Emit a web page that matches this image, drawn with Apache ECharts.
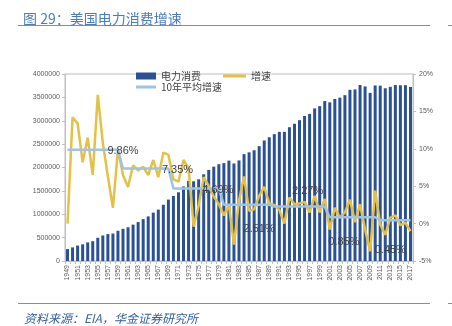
<!DOCTYPE html>
<html>
<head>
<meta charset="utf-8">
<script src="https://cdn.jsdelivr.net/npm/echarts@6/dist/echarts.min.js"></script>
<style>
html,body{margin:0;padding:0;background:#fff;}
#c{width:452px;height:326px;}
</style>
</head>
<body>
<div id="c"></div>
<script>
var years = [];
for (var y = 1949; y <= 2017; y++) years.push(String(y));

var consumption = [255000, 291000, 330000, 357000, 398000, 424000, 497000, 546000, 576000, 588000,
  646000, 688000, 722000, 778000, 833000, 896000, 954000, 1035000, 1099000, 1203000,
  1314000, 1392000, 1470000, 1595000, 1713000, 1706000, 1747000, 1855000, 1948000, 2018000,
  2071000, 2094000, 2147000, 2086000, 2151000, 2286000, 2324000, 2369000, 2457000, 2578000,
  2647000, 2713000, 2762000, 2763000, 2861000, 2935000, 3013000, 3101000, 3146000, 3264000,
  3312000, 3421000, 3394000, 3465000, 3494000, 3547000, 3661000, 3670000, 3765000, 3734000,
  3597000, 3755000, 3750000, 3695000, 3725000, 3765000, 3759000, 3762000, 3723000];

var growth = [0, 14.2, 13.4, 8.2, 11.5, 6.5, 17.2, 10.8, 6.3, 2.1,
  9.9, 6.5, 4.9, 7.8, 7.1, 7.6, 6.5, 8.5, 6.2, 9.5,
  9.2, 5.9, 5.6, 8.5, 7.4, -0.4, 2.4, 6.2, 5.0, 3.6,
  2.6, 1.1, 2.5, -2.8, 3.1, 6.3, 1.7, 1.9, 3.7, 4.9,
  2.7, 2.5, 1.8, 0.0, 3.5, 2.6, 2.7, 2.9, 1.5, 3.7,
  1.5, 3.3, -0.8, 2.1, 0.8, 1.5, 3.2, 0.2, 2.6, -0.8,
  -3.7, 4.4, -0.1, -1.5, 0.8, 1.1, -0.2, 0.1, -1.0];

var avgPeriods = [
  {from: 1949, to: 1959, value: 9.86},
  {from: 1960, to: 1969, value: 7.35},
  {from: 1970, to: 1979, value: 4.69},
  {from: 1980, to: 1989, value: 2.51},
  {from: 1990, to: 2000, value: 2.27},
  {from: 2001, to: 2010, value: 0.85},
  {from: 2011, to: 2017, value: 0.45}
];
var avgLabelYears = ['1960', '1971', '1979', '1987', '1996', '2004', '2013'];
var avgLabelOffsets = [[0, 1], [-1, 1], [-1, 1], [0, 24], [3, -16], [-1, 25], [0, 30]];

var avgGrowth = years.map(function (yr) {
  var n = +yr;
  for (var i = 0; i < avgPeriods.length; i++) {
    if (n >= avgPeriods[i].from && n <= avgPeriods[i].to) return avgPeriods[i].value;
  }
  return null;
});

var leftTicks = [0, 4000000, 500000];
var rightTicks = [-5, 20, 5];

var FONT = '"Liberation Sans", Arial, "Noto Sans CJK SC", sans-serif';
var CJK = '"Noto Sans CJK SC", "Liberation Sans", sans-serif';
var AX = '#bfbfbf';
var LBL = '#595959';

var chart = echarts.init(document.getElementById('c'), null, {renderer: 'canvas'});
chart.setOption({
  animation: false,
  backgroundColor: '#ffffff',
  textStyle: {fontFamily: FONT},
  title: [{
    text: '图 29：美国电力消费增速',
    left: 18, top: 7,
    textStyle: {fontFamily: CJK, fontSize: 14, fontWeight: 'normal', color: '#4a7cc0'}
  }, {
    text: '资料来源：EIA，华金证券研究所',
    left: 19, top: 307,
    textStyle: {fontFamily: CJK, fontSize: 12, fontWeight: 'normal', fontStyle: 'italic', color: '#2f5f9f'}
  }],
  graphic: [
    {type: 'line', shape: {x1: 18, y1: 25.5, x2: 430, y2: 25.5}, style: {stroke: '#5b9bd5', lineWidth: 1}},
    {type: 'line', shape: {x1: 448, y1: 25.5, x2: 452, y2: 25.5}, style: {stroke: '#5b9bd5', lineWidth: 1}},
    {type: 'line', shape: {x1: 18, y1: 303.5, x2: 430, y2: 303.5}, style: {stroke: '#5b9bd5', lineWidth: 1}},
    {type: 'line', shape: {x1: 448, y1: 303.5, x2: 452, y2: 303.5}, style: {stroke: '#5b9bd5', lineWidth: 1}}
  ],
  legend: [{
    data: ['电力消费'], left: 136, top: 71, itemWidth: 20, itemHeight: 7, icon: 'rect',
    textStyle: {fontFamily: CJK, fontSize: 10, color: '#404040'}, padding: 0
  }, {
    data: ['增速'], left: 223, top: 71, itemWidth: 23, itemHeight: 3, icon: 'rect',
    textStyle: {fontFamily: CJK, fontSize: 10, color: '#404040'}, padding: 0
  }, {
    data: ['10年平均增速'], left: 136, top: 82, itemWidth: 20, itemHeight: 3, icon: 'rect',
    textStyle: {fontFamily: CJK, fontSize: 10, color: '#404040'}, padding: 0
  }],
  grid: {left: 65, right: 39, top: 74, bottom: 65, show: true, borderColor: AX, borderWidth: 1},
  xAxis: {
    type: 'category', data: years, boundaryGap: true,
    axisLine: {lineStyle: {color: AX}},
    axisTick: {show: true, interval: 0, length: 3, lineStyle: {color: AX}},
    axisLabel: {interval: 1, rotate: 90, fontSize: 7, color: LBL, margin: 4, fontFamily: FONT}
  },
  yAxis: [{
    type: 'value', min: leftTicks[0], max: leftTicks[1], interval: leftTicks[2],
    axisLine: {show: true, lineStyle: {color: AX}},
    axisTick: {show: true, length: 3, lineStyle: {color: AX}},
    splitLine: {show: false},
    axisLabel: {fontSize: 7, color: LBL, margin: 5, fontFamily: FONT,
      formatter: function (v) { return String(v); }}
  }, {
    type: 'value', min: rightTicks[0], max: rightTicks[1], interval: rightTicks[2], position: 'right',
    axisLine: {show: true, lineStyle: {color: AX}},
    axisTick: {show: true, length: 3, lineStyle: {color: AX}},
    splitLine: {show: false},
    axisLabel: {fontSize: 7, color: LBL, margin: 6, fontFamily: FONT, formatter: '{value}%'}
  }],
  series: [{
    name: '电力消费', type: 'bar', data: consumption, yAxisIndex: 0, barWidth: 3,
    itemStyle: {color: '#2a5194'}
  }, {
    name: '增速', type: 'line', data: growth, yAxisIndex: 1, symbol: 'none',
    lineStyle: {color: '#e3c147', width: 2.5}, itemStyle: {color: '#e3c147'}
  }, {
    name: '10年平均增速', type: 'line', data: avgGrowth, yAxisIndex: 1, symbol: 'none',
    lineStyle: {color: '#9dc3e6', width: 2.5}, itemStyle: {color: '#9dc3e6'},
    markPoint: {
      symbol: 'circle', symbolSize: 0, silent: true,
      label: {show: true, fontSize: 11, color: '#404040', fontFamily: FONT, position: 'inside'},
      data: avgPeriods.map(function (p, i) {
        return {
          coord: [avgLabelYears[i], p.value], value: p.value,
          label: {formatter: p.value.toFixed(2) + '%', offset: avgLabelOffsets[i]}
        };
      })
    }
  }]
});
</script>
</body>
</html>
